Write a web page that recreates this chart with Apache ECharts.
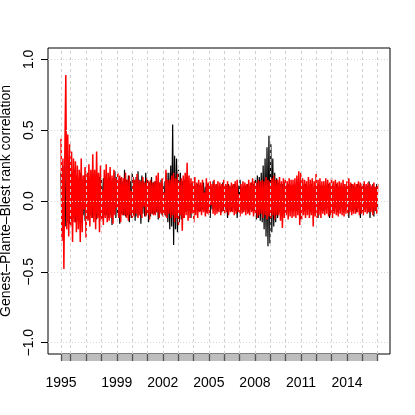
<!DOCTYPE html>
<html><head><meta charset="utf-8">
<script src="https://cdn.jsdelivr.net/npm/echarts@6/dist/echarts.min.js"></script>
<style>html,body{margin:0;padding:0;background:#fff}#c{width:415px;height:415px}</style>
</head><body><div id="c"></div>
<script>
// ---- data ----
const dataStart = 1995.368;
const dataEnd = 2016.0;
const stripYears = [1996,1997,1998,1999,2000,2001,2002,2003,2004,2005,2006,2007,2008,2009,2010,2011,2012,2013,2014,2015,2016];
const xLabelYears = [1995, 1999, 2002, 2005, 2008, 2011, 2014];
const yTicks = [-1, -0.5, 0, 0.5, 1];
const yTickLabels = ['\u22121.0', '\u22120.5', '0.0', '0.5', '1.0'];
const yTitle = 'Genest\u2013Plante\u2013Blest rank correlation';

const blackValues = [
 0.20,-0.22,0.25,-0.20,0.28,-0.18,0.22,-0.15,0.25,-0.16,0.22,-0.14,0.20,-0.12,0.22,-0.15,
 0.18,-0.14,0.16,-0.12,0.20,-0.15,0.15,-0.10,0.18,-0.14,0.16,-0.12,0.20,-0.13,0.16,-0.10,
 0.16,-0.12,0.18,-0.10,0.16,-0.13,0.15,-0.10,0.17,-0.11,0.15,-0.12,0.16,-0.10,0.15,-0.10,
 0.15,-0.12,0.17,-0.10,0.14,-0.17,0.16,-0.09,0.21,-0.12,0.17,-0.10,0.14,-0.16,0.16,-0.09,
 0.14,-0.10,0.22,-0.11,0.15,-0.10,0.18,-0.15,0.14,-0.12,0.20,-0.10,0.15,-0.14,0.17,-0.11,
 0.21,-0.10,0.15,-0.16,0.18,-0.09,0.14,-0.11,0.20,-0.10,0.15,-0.15,0.13,-0.11,0.17,-0.09,
 0.13,-0.09,0.14,-0.08,0.12,-0.13,0.13,-0.08,0.15,-0.10,0.12,-0.08,0.14,-0.11,0.20,-0.15,
 0.20,-0.20,0.25,-0.18,0.54,-0.31,0.32,-0.20,0.30,-0.22,0.22,-0.15,0.20,-0.13,0.14,-0.12,
 0.15,-0.08,0.13,-0.07,0.14,-0.06,0.12,-0.12,0.13,-0.06,0.12,-0.08,0.11,-0.06,0.12,-0.07,
 0.11,-0.07,0.11,-0.06,0.13,-0.05,0.10,-0.08,0.12,-0.05,0.11,-0.12,0.10,-0.06,0.14,-0.05,
 0.11,-0.06,0.12,-0.07,0.10,-0.05,0.11,-0.08,0.13,-0.07,0.10,-0.06,0.11,-0.12,0.12,-0.06,
 0.10,-0.07,0.11,-0.05,0.12,-0.07,0.10,-0.12,0.11,-0.05,0.15,-0.06,0.10,-0.08,0.11,-0.06,
 0.11,-0.06,0.12,-0.08,0.10,-0.06,0.13,-0.07,0.12,-0.07,0.16,-0.13,0.18,-0.12,0.17,-0.14,
 0.20,-0.15,0.25,-0.20,0.30,-0.25,0.38,-0.32,0.46,-0.30,0.40,-0.22,0.30,-0.18,0.20,-0.15,
 0.16,-0.12,0.13,-0.08,0.12,-0.07,0.12,-0.06,0.13,-0.08,0.11,-0.06,0.12,-0.07,0.11,-0.06,
 0.11,-0.08,0.12,-0.06,0.10,-0.07,0.11,-0.05,0.12,-0.13,0.10,-0.06,0.11,-0.07,0.12,-0.06,
 0.10,-0.06,0.11,-0.08,0.12,-0.05,0.10,-0.07,0.11,-0.06,0.10,-0.12,0.12,-0.06,0.11,-0.07,
 0.11,-0.07,0.10,-0.06,0.11,-0.05,0.12,-0.12,0.10,-0.06,0.11,-0.07,0.10,-0.05,0.12,-0.08,
 0.10,-0.06,0.11,-0.05,0.10,-0.08,0.12,-0.07,0.10,-0.05,0.11,-0.12,0.10,-0.06,0.12,-0.07,
 0.11,-0.06,0.10,-0.08,0.12,-0.05,0.11,-0.12,0.10,-0.07,0.12,-0.06,0.10,-0.05,0.11,-0.08,
 0.14,-0.12,0.10,-0.06,0.12,-0.11,0.10,-0.07,0.12,-0.06
];

const redValues = [
 0.44,-0.28,0.30,-0.48,0.35,0.89,-0.20,0.47,-0.25,0.40,-0.18,0.35,-0.29,0.30,-0.15,0.28,
 -0.22,0.25,-0.20,0.22,-0.29,0.30,-0.22,0.18,-0.06,0.24,-0.26,0.20,-0.14,0.26,-0.18,0.22,
 -0.12,0.33,-0.15,0.22,-0.20,0.35,-0.12,0.20,-0.22,0.25,-0.14,0.08,-0.17,0.22,-0.12,0.26,
 -0.15,0.20,-0.14,0.24,-0.12,0.18,-0.16,0.22,-0.10,0.16,-0.05,0.20,-0.12,0.18,-0.15,0.17,
 -0.10,0.16,-0.10,0.20,-0.12,0.15,-0.14,0.18,-0.10,0.07,-0.12,0.17,-0.11,0.15,-0.09,0.19,
 -0.12,0.15,-0.10,0.14,-0.12,0.17,-0.04,0.13,-0.11,0.16,-0.10,0.14,-0.13,0.15,-0.09,0.13,
 -0.10,0.14,-0.10,0.18,-0.08,0.20,-0.12,0.13,-0.09,0.16,-0.11,0.06,-0.10,0.22,-0.12,0.15,
 -0.09,0.15,-0.12,0.18,-0.10,0.20,-0.15,0.16,-0.12,0.19,-0.17,0.14,-0.10,0.16,-0.21,0.18,
 -0.12,0.20,-0.10,0.27,-0.14,0.18,-0.12,0.16,-0.09,0.14,-0.15,0.17,-0.10,0.13,-0.12,0.15,
 -0.08,0.13,-0.10,0.15,-0.08,0.06,-0.11,0.16,-0.09,0.13,-0.10,0.14,-0.03,0.12,-0.09,0.15,
 -0.10,0.12,-0.09,0.14,-0.08,0.13,-0.10,0.12,-0.07,0.15,-0.09,0.12,-0.08,0.14,-0.10,0.11,
 -0.08,0.13,-0.08,0.12,-0.10,0.14,-0.09,0.15,-0.08,0.05,-0.11,0.12,-0.09,0.14,-0.08,0.13,
 -0.10,0.12,-0.09,0.15,-0.10,0.13,-0.08,0.16,-0.11,0.14,-0.09,0.13,-0.12,0.15,-0.10,0.14,
 -0.09,0.15,-0.12,0.14,-0.10,0.17,-0.13,0.15,-0.11,0.14,-0.12,0.16,-0.10,0.18,-0.13,0.15,
 -0.10,0.15,-0.10,0.17,-0.14,0.14,-0.19,0.16,-0.12,0.15,-0.10,0.14,-0.13,0.16,-0.11,0.15,
 -0.12,0.15,-0.11,0.16,-0.12,0.18,-0.10,0.21,-0.17,0.20,-0.13,0.16,-0.10,0.15,-0.12,0.14,
 -0.10,0.17,-0.12,0.15,-0.10,0.16,-0.18,0.14,-0.11,0.19,-0.12,0.15,-0.10,0.16,-0.12,0.14,
 -0.09,0.14,-0.10,0.16,-0.09,0.15,-0.11,0.13,-0.10,0.16,-0.12,0.14,-0.09,0.15,-0.10,0.13,
 -0.11,0.14,-0.09,0.13,-0.10,0.15,-0.11,0.12,-0.09,0.14,-0.10,0.16,-0.08,0.13,-0.10,0.12,
 -0.09,0.13,-0.09,0.12,-0.08,0.14,-0.10,0.13,-0.09,0.12,-0.10,0.14,-0.08,0.12,-0.09,0.13,
 -0.08,0.12,-0.08,0.11,-0.10,0.13,-0.07,0.10,-0.09,0.12
];

// ---- build ----
const FONT = '"Liberation Sans", Arial, Helvetica, sans-serif';
const xMin = 1994.521, xMax = 2016.80;
const yMin = -1.08, yMax = 1.08;
function toPairs(vals) {
  const n = vals.length;
  return vals.map((v, i) => [dataStart + i * (dataEnd - dataStart) / (n - 1), v]);
}
const stripTicks = [dataStart].concat(stripYears);
const xLabelPos = xLabelYears.map(y => Math.max(y, dataStart));

const chart = echarts.init(document.getElementById('c'), null, {renderer: 'canvas'});
chart.setOption({
  animation: false,
  backgroundColor: '#ffffff',
  grid: [
    {left: 48, right: 25, top: 48, bottom: 61, show: true, borderColor: '#000', borderWidth: 1,
     backgroundColor: 'transparent', containLabel: false, outerBoundsMode: 'none'},
    {left: 48, right: 25, top: 354, height: 7, show: false, containLabel: false, outerBoundsMode: 'none'}
  ],
  xAxis: [
    {type: 'value', gridIndex: 0, min: xMin, max: xMax,
     axisLine: {show: false}, axisTick: {show: false}, splitLine: {show: false},
     axisLabel: {show: true, customValues: xLabelPos, margin: 22, color: '#000',
       fontFamily: FONT, fontSize: 14, formatter: v => String(Math.floor(v))}},
    {type: 'value', gridIndex: 1, min: xMin, max: xMax,
     axisLine: {show: false}, axisLabel: {show: false}, splitLine: {show: false},
     axisTick: {show: false}}
  ],
  yAxis: [
    {type: 'value', gridIndex: 0, min: yMin, max: yMax,
     axisLine: {show: false}, splitLine: {show: false},
     axisTick: {show: true, customValues: yTicks, length: 7, lineStyle: {color: '#000', width: 1}},
     axisLabel: {show: true, customValues: yTicks, rotate: 90, margin: 12, color: '#000',
       fontFamily: FONT, fontSize: 14,
       formatter: v => yTickLabels[yTicks.findIndex(t => Math.abs(t - v) < 1e-6)]},
     name: yTitle, nameLocation: 'middle', nameGap: 35, nameRotate: 90, nameMoveOverlap: false,
     nameTextStyle: {color: '#000', fontFamily: FONT, fontSize: 14}},
    {type: 'value', gridIndex: 1, min: 0, max: 1, show: false}
  ],
  series: [
    {type: 'line', xAxisIndex: 0, yAxisIndex: 0, data: [], z: 1, silent: true,
     markLine: {silent: true, symbol: ['none', 'none'], label: {show: false}, animation: false,
       data: stripTicks.map(v => ({xAxis: v, lineStyle: {color: '#cfcfcf', type: [3, 3], width: 1}}))
         .concat(yTicks.map(v => ({yAxis: v, lineStyle: {color: '#d6d6d6', type: [1, 2], width: 1}})))}},
    {type: 'line', xAxisIndex: 0, yAxisIndex: 0, z: 2, data: toPairs(blackValues),
     showSymbol: false, lineStyle: {color: '#000', width: 1.2}, silent: true},
    {type: 'line', xAxisIndex: 0, yAxisIndex: 0, z: 3, data: toPairs(redValues),
     showSymbol: false, lineStyle: {color: '#ff0000', width: 1.5}, silent: true},
    {type: 'line', xAxisIndex: 1, yAxisIndex: 1, data: [], z: 1, silent: true,
     markArea: {silent: true, itemStyle: {color: '#bebebe'}, data: [[{xAxis: dataStart}, {xAxis: dataEnd}]]}},
    {type: 'line', xAxisIndex: 1, yAxisIndex: 1, data: [], z: 2, silent: true,
     markLine: {silent: true, symbol: ['none', 'none'], label: {show: false}, animation: false,
       lineStyle: {color: '#555', type: 'solid', width: 1.3},
       data: stripTicks.map(v => ({xAxis: v}))}}
  ]
});
</script></body></html>
